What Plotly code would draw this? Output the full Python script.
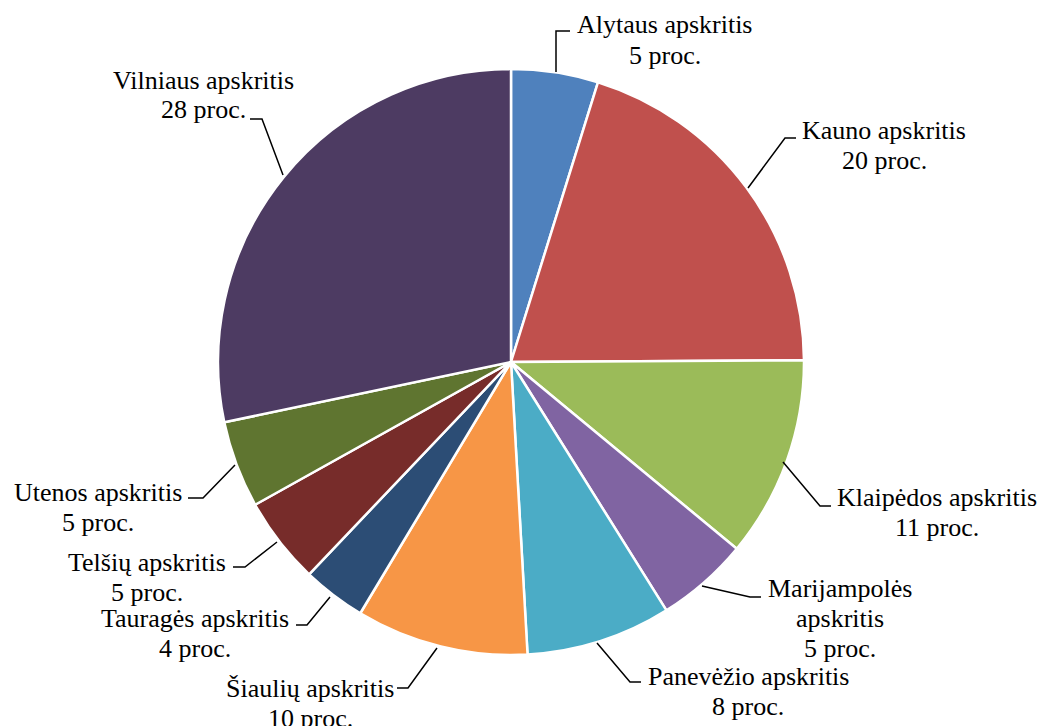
import plotly.graph_objects as go

W, H = 1041, 726

regions = [
    "Alytaus apskritis", "Kauno apskritis", "Klaipėdos apskritis",
    "Marijampolės apskritis", "Panevėžio apskritis", "Šiaulių apskritis",
    "Tauragės apskritis", "Telšių apskritis", "Utenos apskritis",
    "Vilniaus apskritis",
]
shares = [4.8, 20.1, 11.1, 5.1, 8.0, 9.5, 3.5, 4.8, 4.8, 28.3]
colors = [
    "#4F81BD", "#C0504D", "#9BBB59", "#8064A2", "#4BACC6",
    "#F79646", "#2C4D75", "#772C2A", "#5F7530", "#4D3B62",
]

# label text lines (one entry per region), and where they sit (pixels)
label_lines = [
    ["Alytaus apskritis"],
    ["Kauno apskritis"],
    ["Klaipėdos apskritis"],
    ["Marijampolės", "apskritis"],
    ["Panevėžio apskritis"],
    ["Šiaulių apskritis"],
    ["Tauragės apskritis"],
    ["Telšių apskritis"],
    ["Utenos apskritis"],
    ["Vilniaus apskritis"],
]
label_pos = [(665, 25), (884, 130), (937, 497), (840, 588), (748, 676),
             (310, 688), (195, 618), (147, 562), (98, 492), (203, 80)]
# leader lines: start (on slice) -> elbow -> end (near text)
leaders = [
    [(556, 72), (556, 31), (570, 31)],
    [(748, 188), (785, 138), (796, 138)],
    [(783, 462), (820, 506), (831, 506)],
    [(702, 586), (750, 597), (761, 597)],
    [(597, 643), (630, 682), (641, 682)],
    [(437, 648), (408, 688), (397, 688)],
    [(330, 597), (307, 625), (296, 625)],
    [(277, 542), (245, 567), (233, 567)],
    [(235, 465), (203, 498), (188, 498)],
    [(283, 175), (262, 119), (250, 119)],
]
LINE_GAP = 30


def px(x, y):
    """Pixel position (from top-left) -> paper coordinates."""
    return x / W, 1 - y / H


cx, cy, r = 511, 362, 293
x0, y0 = px(cx - r, cy + r)
x1, y1 = px(cx + r, cy - r)

fig = go.Figure(go.Pie(
    labels=regions,
    values=shares,
    sort=False,
    direction="clockwise",
    rotation=0,
    marker=dict(colors=colors, line=dict(color="white", width=2.5)),
    textinfo="none",
    hovertemplate="%{label}<br>%{percent}<extra></extra>",
    domain=dict(x=[x0, x1], y=[y0, y1]),
    showlegend=False,
))

font = dict(family="Liberation Serif", size=26, color="black")
for share, lines, (lx, ly), pts in zip(shares, label_lines, label_pos, leaders):
    all_lines = lines + [f"{round(share):d} proc."]
    for k, t in enumerate(all_lines):
        ax, ay = px(lx, ly + k * LINE_GAP)
        fig.add_annotation(
            x=ax, y=ay, xref="paper", yref="paper",
            text=t, showarrow=False, font=font,
            xanchor="center", yanchor="middle",
        )
    path = ""
    for j, (qx, qy) in enumerate(pts):
        a, b = px(qx, qy)
        path += ("M" if j == 0 else "L") + f"{a},{b} "
    fig.add_shape(type="path", path=path.strip(), xref="paper", yref="paper",
                  line=dict(color="black", width=1.5))

fig.update_layout(
    width=W, height=H,
    margin=dict(l=0, r=0, t=0, b=0),
    paper_bgcolor="white",
    plot_bgcolor="white",
)
fig.write_html("out.html", config={"displayModeBar": False},
               post_script="document.body.style.margin='0';")
